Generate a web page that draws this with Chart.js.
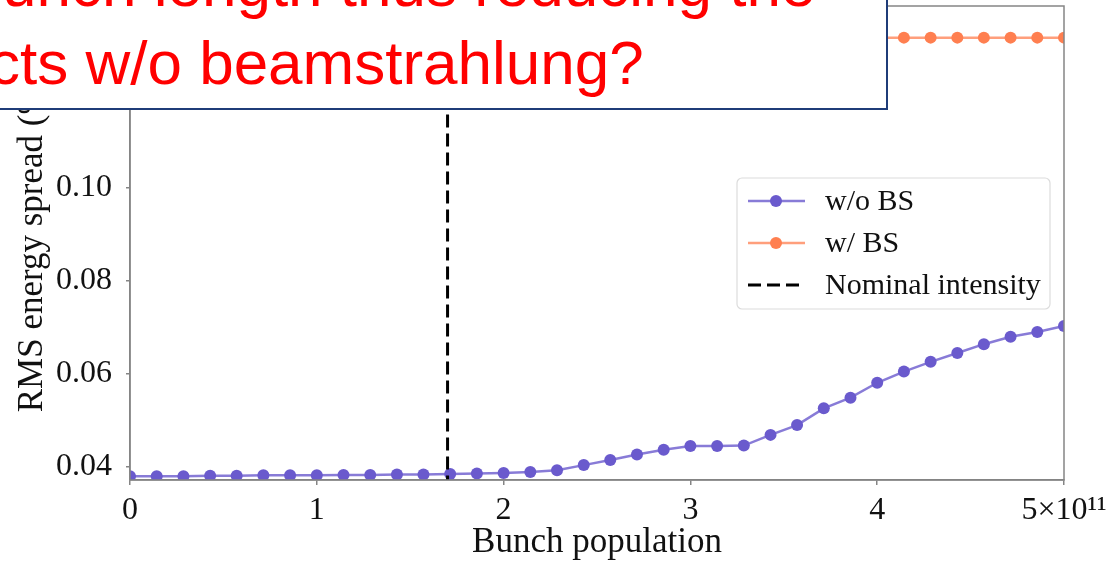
<!DOCTYPE html>
<html>
<head>
<meta charset="utf-8">
<script src="https://cdn.jsdelivr.net/npm/chart.js@4.4.0/dist/chart.umd.min.js"></script>
<style>
html, body { margin: 0; padding: 0; background: #fff; overflow: hidden; }
#wrap { position: relative; width: 1115px; height: 562px; overflow: hidden; }
#note { position: absolute; left: -20px; top: -20px; width: 908px; height: 130px; box-sizing: border-box; border: 2px solid #1f3c78; background: #fff; }
.line { position: absolute; font-family: "Liberation Sans", Arial, sans-serif; font-size: 62px; line-height: 62px; color: #ff0000; white-space: nowrap; }
</style>
</head>
<body>
<div id="wrap">
	<canvas id="myChart" width="1115" height="562"></canvas>
	<div id="note"></div>
	<div class="line" style="left:2px; top:-46px;">unch length thus reducing the</div>
	<div class="line" style="left:-11px; top:32px;">cts w/o beamstrahlung?</div>
</div>
<script>
// bunch population (units of 1e11)
var bunchPop = [0.000, 0.143, 0.286, 0.429, 0.571, 0.714, 0.857, 1.000, 1.143, 1.286, 1.429, 1.571,
	1.714, 1.857, 2.000, 2.143, 2.286, 2.429, 2.571, 2.714, 2.857, 3.000, 3.143, 3.286,
	3.429, 3.571, 3.714, 3.857, 4.000, 4.143, 4.286, 4.429, 4.571, 4.714, 4.857, 5.000];
var spreadNoBS = [0.0380, 0.0380, 0.0380, 0.0381, 0.0381, 0.0382, 0.0382, 0.0382, 0.0383, 0.0383, 0.0384, 0.0384,
	0.0385, 0.0386, 0.0387, 0.0389, 0.0393, 0.0404, 0.0415, 0.0427, 0.0437, 0.0445, 0.0445, 0.0446,
	0.0469, 0.0490, 0.0526, 0.0549, 0.0581, 0.0605, 0.0626, 0.0645, 0.0664, 0.0680, 0.0690, 0.0703];
var spreadBS = [0.1323, 0.1323, 0.1323, 0.1323, 0.1323, 0.1323, 0.1323, 0.1323, 0.1323, 0.1323, 0.1323, 0.1323,
	0.1323, 0.1323, 0.1323, 0.1323, 0.1323, 0.1323, 0.1323, 0.1323, 0.1323, 0.1323, 0.1323, 0.1323,
	0.1323, 0.1323, 0.1323, 0.1323, 0.1323, 0.1323, 0.1323, 0.1323, 0.1323, 0.1323, 0.1323, 0.1323];
var nominalPop = 1.7;
var xTicks = [0, 1, 2, 3, 4, 5];
var xTickLabels = ['0', '1', '2', '3', '4', '5×10¹¹'];
var yTicks = [0.04, 0.06, 0.08, 0.10, 0.12];
var yMin = 0.0372, yMax = 0.1391;

var serif = '"Liberation Serif", "Times New Roman", serif';
var spineColor = '#858585';

function pts(xs, ys) {
	return xs.map(function (x, i) { return { x: x, y: ys[i] }; });
}

// top/right spines
var frame = {
	id: 'frame',
	afterDatasetsDraw: function (chart) {
		var a = chart.chartArea, ctx = chart.ctx;
		ctx.save();
		ctx.strokeStyle = spineColor;
		ctx.lineWidth = 1.5;
		ctx.strokeRect(a.left, a.top, a.right - a.left, a.bottom - a.top);
		ctx.restore();
	}
};

// legend inside the axes, matplotlib style
var boxLegend = {
	id: 'boxLegend',
	afterDraw: function (chart) {
		var ctx = chart.ctx;
		var x0 = 737, y0 = 178, w = 313, h = 131;
		ctx.save();
		ctx.fillStyle = 'rgba(255,255,255,0.85)';
		ctx.strokeStyle = '#dcdcdc';
		ctx.lineWidth = 1.2;
		ctx.beginPath();
		ctx.roundRect(x0, y0, w, h, 5);
		ctx.fill();
		ctx.stroke();
		ctx.font = '30px ' + serif;
		ctx.textBaseline = 'middle';
		ctx.textAlign = 'left';
		var order = [1, 2, 0];
		order.forEach(function (di, row) {
			var ds = chart.data.datasets[di];
			var cy = 201 + row * 42;
			ctx.strokeStyle = ds.borderColor;
			ctx.lineWidth = ds.borderWidth;
			ctx.setLineDash(ds.borderDash || []);
			ctx.beginPath();
			ctx.moveTo(748, cy);
			ctx.lineTo(805, cy);
			ctx.stroke();
			ctx.setLineDash([]);
			if (ds.pointRadius > 0) {
				ctx.fillStyle = ds.pointBackgroundColor;
				ctx.beginPath();
				ctx.arc(776, cy, ds.pointRadius, 0, Math.PI * 2);
				ctx.fill();
			}
			ctx.fillStyle = '#111';
			ctx.fillText(ds.label, 825, cy + 1);
		});
		ctx.restore();
	}
};

var ctx = document.getElementById('myChart');
var myChart = new Chart(ctx, {
	type: 'line',
	data: {
		datasets: [
			{
				label: 'Nominal intensity',
				data: [{ x: nominalPop, y: yMin - 0.01 }, { x: nominalPop, y: yMax + 0.01 }],
				borderColor: '#000000',
				borderWidth: 3,
				borderDash: [13, 6],
				pointRadius: 0,
				order: 0,
			},
			{
				label: 'w/o BS',
				data: pts(bunchPop, spreadNoBS),
				borderColor: 'rgba(106, 90, 205, 0.8)',
				borderWidth: 2.5,
				pointRadius: 6,
				pointBackgroundColor: '#6a5acd',
				pointBorderWidth: 0,
				order: 1,
			},
			{
				label: 'w/ BS',
				data: pts(bunchPop, spreadBS),
				borderColor: 'rgba(255, 127, 80, 0.75)',
				borderWidth: 2.5,
				pointRadius: 6,
				pointBackgroundColor: '#ff7f50',
				pointBorderWidth: 0,
				order: 2,
			},
		],
	},
	options: {
		responsive: false,
		animation: false,
		devicePixelRatio: 1,
		layout: { padding: { top: 6, right: 51, left: 0, bottom: 0 } },
		plugins: {
			legend: { display: false },
			tooltip: { enabled: false },
		},
		scales: {
			x: {
				type: 'linear',
				min: 0,
				max: 5,
				afterBuildTicks: function (s) { s.ticks = xTicks.map(function (v) { return { value: v }; }); },
				afterFit: function (s) { s.height = 82; s.paddingLeft = 0; s.paddingRight = 0; },
				grid: { drawOnChartArea: false, drawTicks: true, tickLength: 5, color: spineColor, lineWidth: 1.5 },
				border: { display: true, color: spineColor, width: 1.5 },
				ticks: {
					padding: 6,
					color: '#111',
					font: { family: serif, size: 32 },
					maxRotation: 0,
					autoSkip: false,
					callback: function (v) { return xTickLabels[xTicks.indexOf(v)]; },
				},
				title: {
					display: true,
					text: 'Bunch population',
					color: '#111',
					font: { family: serif, size: 35 },
					padding: { top: 0, bottom: -2 },
				},
			},
			y: {
				min: yMin,
				max: yMax,
				afterBuildTicks: function (s) { s.ticks = yTicks.map(function (v) { return { value: v }; }); },
				afterFit: function (s) { s.width = 130; s.paddingTop = 0; s.paddingBottom = 0; },
				grid: { drawOnChartArea: false, drawTicks: true, tickLength: 4, color: spineColor, lineWidth: 1.5 },
				border: { display: true, color: spineColor, width: 1.5 },
				ticks: {
					padding: 14,
					color: '#111',
					font: { family: serif, size: 32 },
					autoSkip: false,
					callback: function (v) { return v.toFixed(2); },
				},
				title: {
					display: true,
					text: 'RMS energy spread (%)',
					color: '#111',
					font: { family: serif, size: 35 },
					padding: { top: 12, bottom: 0 },
				},
			},
		},
	},
	plugins: [frame, boxLegend],
});
</script>
</body>
</html>
